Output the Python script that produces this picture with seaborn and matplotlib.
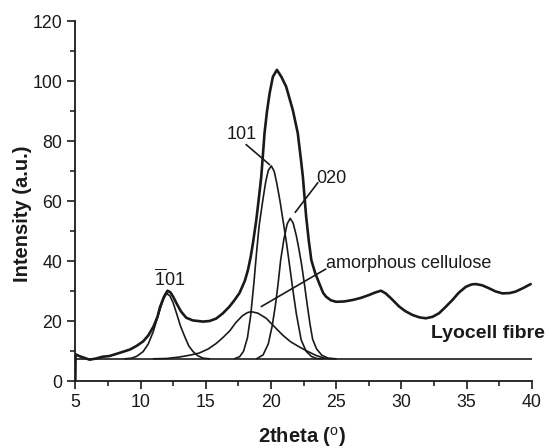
import matplotlib
matplotlib.use("Agg")
import matplotlib.pyplot as plt
import seaborn as sns
import pandas as pd
from matplotlib.ticker import MultipleLocator

# measured XRD pattern (2theta, intensity)
total_x = [5.0, 5.02, 5.3, 5.7, 6.1, 6.6, 7.1, 7.6, 8.2, 8.7, 9.2, 9.7, 10.2, 10.6, 11.0,
           11.3, 11.5, 11.8, 12.07, 12.3, 12.5, 12.76, 13.1, 13.5, 14.0, 14.8, 15.3, 15.8,
           16.3, 16.8, 17.2, 17.6, 18.0, 18.24, 18.45, 18.62, 18.88, 19.1, 19.26, 19.51,
           19.7, 19.9, 20.15, 20.46, 20.8, 21.17, 21.68, 22.06, 22.3, 22.45, 22.7, 22.9,
           23.1, 23.4, 23.72, 24.0, 24.23, 24.6, 25.0, 25.6, 26.27, 26.9, 27.55, 28.0,
           28.44, 28.8, 29.2, 29.84, 30.3, 30.86, 31.4, 31.88, 32.4, 32.9, 33.4, 33.92,
           34.4, 34.95, 35.4, 35.71, 36.2, 36.73, 37.2, 37.75, 38.3, 38.77, 39.4, 39.92]
total_y = [0.0, 9.0, 8.4, 7.8, 7.2, 7.6, 8.2, 8.4, 9.2, 9.9, 10.6, 11.8, 13.3, 15.3, 18.3,
           21.5, 24.8, 28.2, 30.2, 29.6, 28.2, 26.0, 23.3, 21.2, 20.3, 19.9, 20.1, 20.9,
           22.6, 24.8, 27.0, 29.5, 33.5, 37.1, 41.5, 46.0, 53.8, 62.0, 68.2, 82.7,
           90.0, 96.0, 101.5, 103.8, 101.5, 98.2, 90.4, 82.7, 74.0, 68.2, 55.0, 47.0,
           40.4, 36.0, 32.5, 29.5, 28.2, 27.0, 26.5, 26.6, 27.1, 27.8, 28.8, 29.6,
           30.2, 29.3, 27.7, 24.9, 23.4, 22.1, 21.3, 21.0, 21.5, 22.7, 24.8, 27.1,
           29.5, 31.5, 32.3, 32.4, 32.0, 31.0, 30.0, 29.3, 29.4, 29.9, 31.2, 32.4]

# fitted peaks
p_m101_x = [8.8, 9.3, 9.7, 10.2, 10.6, 10.97, 11.2, 11.48, 11.75, 12.0, 12.25, 12.5, 12.76,
            13.05, 13.39, 13.7, 14.03, 14.4, 14.8, 15.3]
p_m101_y = [7.5, 7.7, 8.3, 9.9, 12.5, 16.5, 19.8, 23.8, 27.3, 29.3, 28.5, 26.2, 22.7,
            18.6, 14.9, 11.8, 9.9, 8.5, 7.7, 7.5]

amorph_x = [11.0, 12.0, 13.0, 13.78, 14.5, 15.2, 15.8, 16.3, 16.84, 17.3, 17.8, 18.2, 18.5,
            19.0, 19.64, 20.2, 20.9, 21.5, 22.2, 22.8, 23.47, 24.1, 24.7]
amorph_y = [7.5, 7.6, 8.1, 8.7, 9.4, 10.8, 12.6, 14.5, 16.8, 19.5, 21.8, 22.9, 23.2,
            22.7, 21.0, 18.5, 15.4, 13.2, 11.4, 10.0, 8.6, 7.7, 7.5]

p101_x = [17.2, 17.6, 17.9, 18.2, 18.45, 18.7, 18.9, 19.1, 19.38, 19.6, 19.8, 20.03, 20.25,
          20.45, 20.7, 20.95, 21.2, 21.45, 21.7, 21.95, 22.32, 22.7, 23.1, 23.5, 24.0]
p101_y = [7.5, 8.2, 10.0, 14.5, 22.0, 33.0, 43.0, 52.0, 60.4, 66.5, 70.3, 71.8, 70.0,
          66.0, 60.0, 53.0, 46.0, 38.0, 30.0, 22.5, 13.8, 10.0, 8.3, 7.6, 7.5]

p020_x = [18.9, 19.4, 19.8, 20.1, 20.35, 20.55, 20.75, 21.0, 21.25, 21.48, 21.7, 21.95, 22.15,
          22.35, 22.55, 22.8, 23.0, 23.2, 23.5, 23.9, 24.4, 25.0]
p020_y = [7.5, 8.8, 12.5, 18.5, 25.5, 32.5, 40.5, 47.5, 52.5, 54.3, 52.8, 48.5, 44.0,
          39.0, 33.0, 25.0, 19.0, 14.0, 10.8, 8.7, 7.7, 7.5]

base_x = [5.0, 40.0]
base_y = [7.5, 7.5]

sns.set_style("ticks")
plt.rcParams['font.family'] = ['Liberation Sans', 'DejaVu Sans']
plt.rcParams['mathtext.fontset'] = 'custom'
plt.rcParams['mathtext.rm'] = 'Liberation Sans'

fig = plt.figure(figsize=(5.49, 4.48), dpi=100)
ax = fig.add_axes([0.1372, 0.1489, 0.8313, 0.8036])

ink = '#1a1a1a'
sns.lineplot(x=base_x, y=base_y, ax=ax, color=ink, lw=1.2, sort=False, estimator=None)
for cx, cy in [(p_m101_x, p_m101_y), (amorph_x, amorph_y), (p101_x, p101_y), (p020_x, p020_y)]:
    sns.lineplot(x=cx, y=cy, ax=ax, color=ink, lw=1.2, sort=False, estimator=None)
sns.lineplot(x=total_x, y=total_y, ax=ax, color=ink, lw=1.9, sort=False, estimator=None)

ax.set_xlim(5, 40)
ax.set_ylim(0, 120)
ax.xaxis.set_major_locator(MultipleLocator(5))
ax.xaxis.set_minor_locator(MultipleLocator(2.5))
ax.yaxis.set_major_locator(MultipleLocator(20))
ax.yaxis.set_minor_locator(MultipleLocator(10))
ax.tick_params(which='major', direction='out', length=6, width=1.2, labelsize=12.8, colors=ink)
ax.tick_params(which='minor', direction='out', length=3.5, width=1.2)
sns.despine(ax=ax)
for s in ['left', 'bottom']:
    ax.spines[s].set_linewidth(1.3)
    ax.spines[s].set_color(ink)

ax.set_ylabel('Intensity (a.u.)', fontsize=14.5, fontweight='bold', color=ink)
ax.yaxis.set_label_coords(-0.095, 0.465)
ax.set_xlabel('2theta ($^{\\mathrm{o}}$)', fontsize=14.5, fontweight='bold', color=ink)
ax.xaxis.set_label_coords(0.497, -0.122)

# annotations
ax.text(12.25, 34.1, r'$\overline{\mathrm{1}}\mathrm{01}$', fontsize=13, ha='center', va='center', color=ink)
ax.text(17.76, 82.3, '101', fontsize=13, ha='center', va='center', color=ink)
ax.plot([18.1, 19.9], [78.9, 72.2], color=ink, lw=1.2)
ax.text(23.5, 67.6, '020', fontsize=13, ha='left', va='center', color=ink)
ax.plot([23.6, 21.86], [66.2, 56.3], color=ink, lw=1.2)
ax.text(24.25, 39.4, 'amorphous cellulose', fontsize=13, ha='left', va='center', color=ink)
ax.plot([24.2, 19.26], [37.4, 24.9], color=ink, lw=1.2)
ax.text(32.27, 15.8, 'Lyocell fibre', fontsize=14, fontweight='bold', ha='left', va='center', color=ink)

fig.savefig('out.png', dpi=100)
